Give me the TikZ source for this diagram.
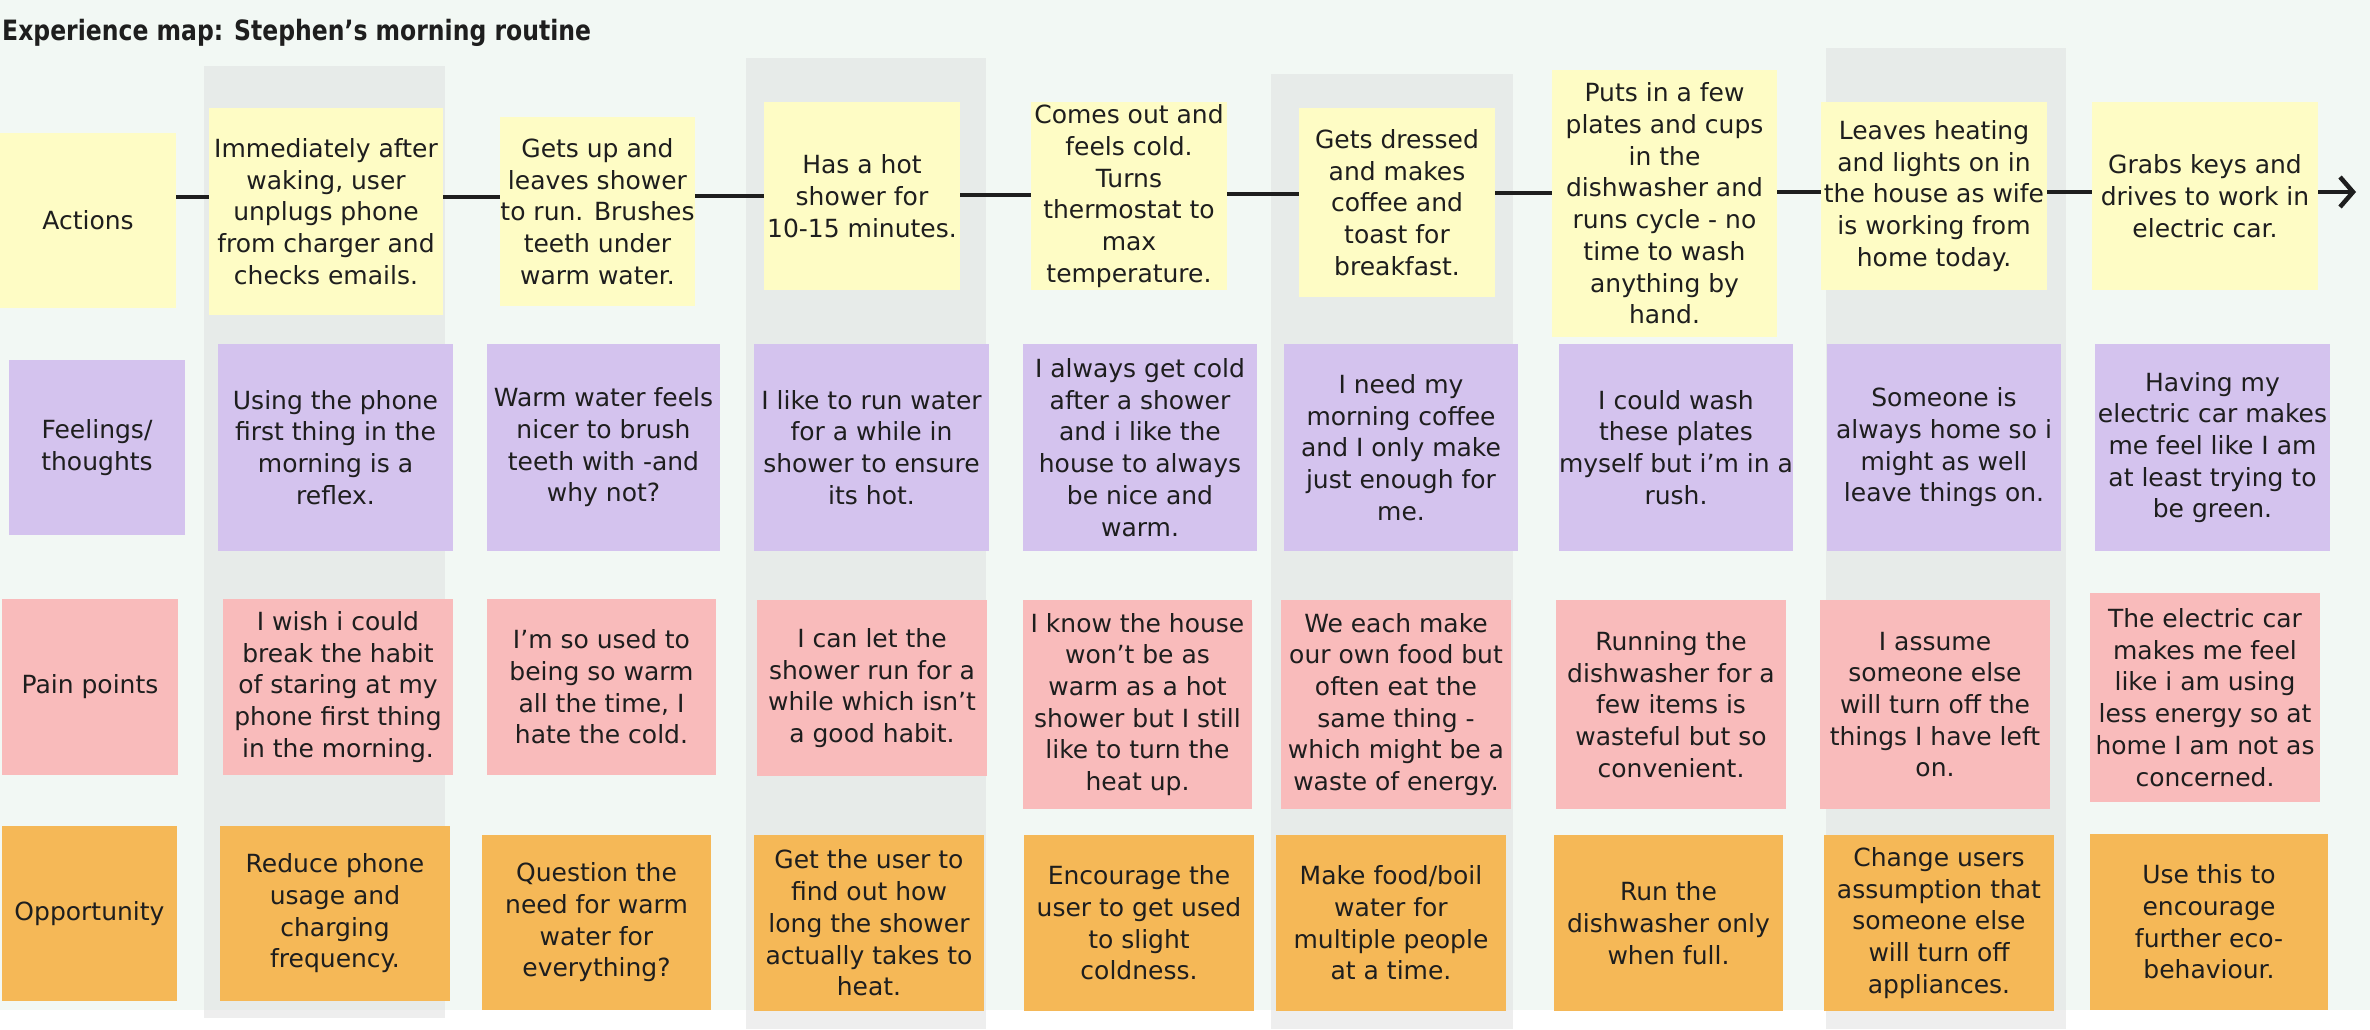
\documentclass[tikz,border=0pt]{standalone}
\usepackage{fontspec}
\usepackage{graphicx}
\setmainfont{DejaVu Sans}
\usetikzlibrary{arrows.meta}
\definecolor{ink}{HTML}{1E1E1E}
\definecolor{bgc}{HTML}{F2F8F4}
\definecolor{colg}{HTML}{E7EBE9}
\definecolor{colglow}{HTML}{EEEEEE}
\definecolor{yel}{HTML}{FEFCC5}
\definecolor{pur}{HTML}{D4C3EE}
\definecolor{pnk}{HTML}{F9BBBB}
\definecolor{org}{HTML}{F5B857}
\tikzset{
  card/.style={rectangle, inner sep=0pt, align=center, text=ink, font=\fontsize{25pt}{31.7pt}\selectfont},
  lane/.style={fill=colg},
  lanelow/.style={fill=colglow},
  flow/.style={draw=ink, line width=4.5pt},
  titletext/.style={anchor=base west, inner sep=0pt, text=ink, font=\fontsize{28pt}{33pt}\selectfont\bfseries},
}
\newcommand\mkcard[7]{\node[card, fill=#2, minimum width=#5pt-#3pt, minimum height=#6pt-#4pt] (#1) at ({(#3+#5)/2},{(#4+#6)/2}) {#7};}
\begin{document}
\begin{tikzpicture}[x=1pt, y=-1pt]
\useasboundingbox (0,0) rectangle (2370,1029);
\fill[white] (0,0) rectangle (2370,1029);
\fill[bgc] (0,0) rectangle (2370,1010);
% lanes
\fill[lane] (204,66) rectangle (445,1018);
\fill[lanelow] (204,1010) rectangle (445,1018);
\fill[lane] (746,58) rectangle (986,1029);
\fill[lanelow] (746,1010) rectangle (986,1029);
\fill[lane] (1271,74) rectangle (1513,1029);
\fill[lanelow] (1271,1010) rectangle (1513,1029);
\fill[lane] (1826,48) rectangle (2066,1029);
\fill[lanelow] (1826,1010) rectangle (2066,1029);
% title
\node[titletext] (title) at (2,40) {\scalebox{0.84}[1]{Experience map: Stephen’s morning routine}};
% row labels
\mkcard{lact}{yel}{0}{133}{176}{308}{Actions}
\mkcard{lfeel}{pur}{9}{360}{185}{535}{Feelings/\\thoughts}
\mkcard{lpain}{pnk}{2}{599}{178}{775}{Pain points}
\mkcard{lopp}{org}{2}{826}{177}{1001}{Opportunity}
% actions
\mkcard{a1}{yel}{209}{108}{443}{315}{Immediately after\\waking, user\\unplugs phone\\from charger and\\checks emails.}
\mkcard{a2}{yel}{500}{117}{695}{306}{Gets up and\\leaves shower\\to run. Brushes\\teeth under\\warm water.}
\mkcard{a3}{yel}{764}{102}{960}{290}{Has a hot\\shower for\\10-15 minutes.}
\mkcard{a4}{yel}{1031}{102}{1227}{290}{Comes out and\\feels cold.\\Turns\\thermostat to\\max\\temperature.}
\mkcard{a5}{yel}{1299}{108}{1495}{297}{Gets dressed\\and makes\\coffee and\\toast for\\breakfast.}
\mkcard{a6}{yel}{1552}{70}{1777}{337}{Puts in a few\\plates and cups\\in the\\dishwasher and\\runs cycle - no\\time to wash\\anything by\\hand.}
\mkcard{a7}{yel}{1821}{102}{2047}{290}{Leaves heating\\and lights on in\\the house as wife\\is working from\\home today.}
\mkcard{a8}{yel}{2092}{102}{2318}{290}{Grabs keys and\\drives to work in\\electric car.}
% feelings
\mkcard{f1}{pur}{218}{344}{453}{551}{Using the phone\\first thing in the\\morning is a\\reflex.}
\mkcard{f2}{pur}{487}{344}{720}{551}{Warm water feels\\nicer to brush\\teeth with -and\\why not?}
\mkcard{f3}{pur}{754}{344}{989}{551}{I like to run water\\for a while in\\shower to ensure\\its hot.}
\mkcard{f4}{pur}{1023}{344}{1257}{551}{I always get cold\\after a shower\\and i like the\\house to always\\be nice and\\warm.}
\mkcard{f5}{pur}{1284}{344}{1518}{551}{I need my\\morning coffee\\and I only make\\just enough for\\me.}
\mkcard{f6}{pur}{1559}{344}{1793}{551}{I could wash\\these plates\\myself but i’m in a\\rush.}
\mkcard{f7}{pur}{1827}{344}{2061}{551}{Someone is\\always home so i\\might as well\\leave things on.}
\mkcard{f8}{pur}{2095}{344}{2330}{551}{Having my\\electric car makes\\me feel like I am\\at least trying to\\be green.}
% pain points
\mkcard{p1}{pnk}{223}{599}{453}{775}{I wish i could\\break the habit\\of staring at my\\phone first thing\\in the morning.}
\mkcard{p2}{pnk}{487}{599}{716}{775}{I’m so used to\\being so warm\\all the time, I\\hate the cold.}
\mkcard{p3}{pnk}{757}{600}{987}{776}{I can let the\\shower run for a\\while which isn’t\\a good habit.}
\mkcard{p4}{pnk}{1023}{600}{1252}{809}{I know the house\\won’t be as\\warm as a hot\\shower but I still\\like to turn the\\heat up.}
\mkcard{p5}{pnk}{1281}{600}{1511}{809}{We each make\\our own food but\\often eat the\\same thing -\\which might be a\\waste of energy.}
\mkcard{p6}{pnk}{1556}{600}{1786}{809}{Running the\\dishwasher for a\\few items is\\wasteful but so\\convenient.}
\mkcard{p7}{pnk}{1820}{600}{2050}{809}{I assume\\someone else\\will turn off the\\things I have left\\on.}
\mkcard{p8}{pnk}{2090}{593}{2320}{802}{The electric car\\makes me feel\\like i am using\\less energy so at\\home I am not as\\concerned.}
% opportunities
\mkcard{o1}{org}{220}{826}{450}{1001}{Reduce phone\\usage and\\charging\\frequency.}
\mkcard{o2}{org}{482}{835}{711}{1010}{Question the\\need for warm\\water for\\everything?}
\mkcard{o3}{org}{754}{835}{984}{1011}{Get the user to\\find out how\\long the shower\\actually takes to\\heat.}
\mkcard{o4}{org}{1024}{835}{1254}{1011}{Encourage the\\user to get used\\to slight\\coldness.}
\mkcard{o5}{org}{1276}{835}{1506}{1011}{Make food/boil\\water for\\multiple people\\at a time.}
\mkcard{o6}{org}{1554}{835}{1783}{1011}{Run the\\dishwasher only\\when full.}
\mkcard{o7}{org}{1824}{835}{2054}{1011}{Change users\\assumption that\\someone else\\will turn off\\appliances.}
\mkcard{o8}{org}{2090}{834}{2328}{1010}{Use this to\\encourage\\further eco-\\behaviour.}
% flow line
\coordinate (tip) at (2356,192);
\draw[flow] (lact.east |- 0,197) -- (a1.west |- 0,197);
\draw[flow] (a1.east |- 0,197) -- (a2.west |- 0,197);
\draw[flow] (a2.east |- 0,196) -- (a3.west |- 0,196);
\draw[flow] (a3.east |- 0,195) -- (a4.west |- 0,195);
\draw[flow] (a4.east |- 0,194) -- (a5.west |- 0,194);
\draw[flow] (a5.east |- 0,193) -- (a6.west |- 0,193);
\draw[flow] (a6.east |- 0,192) -- (a7.west |- 0,192);
\draw[flow] (a7.east |- 0,192) -- (a8.west |- 0,192);
\draw[flow, -{Straight Barb[length=13pt, width=30pt]}] (a8.east |- 0,192) -- (tip);
\end{tikzpicture}
\end{document}
